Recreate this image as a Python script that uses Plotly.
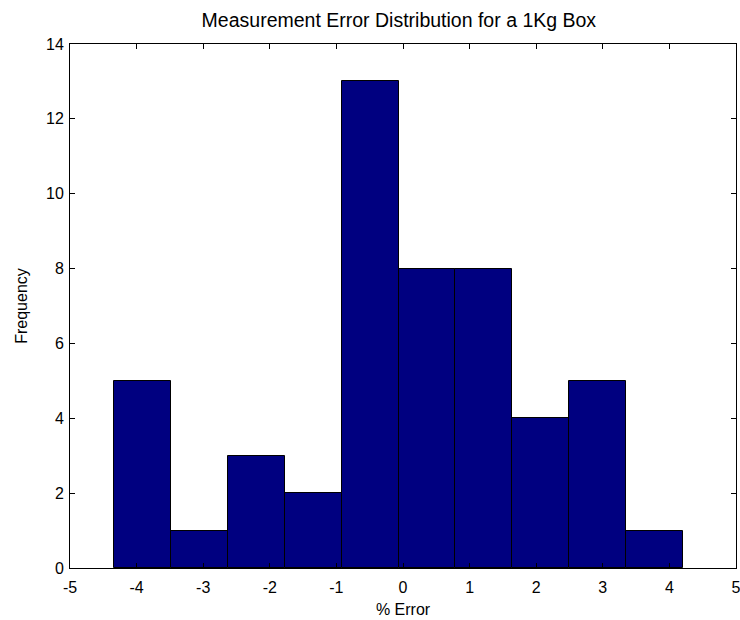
import plotly.graph_objects as go

bin_centers = [-3.91, -3.06, -2.205, -1.35, -0.495, 0.36, 1.215, 2.07, 2.925, 3.78]
counts = [5, 1, 3, 2, 13, 8, 8, 4, 5, 1]
bin_width = 0.855
x_ticks = [-5, -4, -3, -2, -1, 0, 1, 2, 3, 4, 5]
y_ticks = [0, 2, 4, 6, 8, 10, 12, 14]

FONT = "Liberation Sans, Arial"

fig = go.Figure(go.Bar(
    x=bin_centers, y=counts, width=[bin_width] * len(counts),
    marker=dict(color="#000080", line=dict(color="black", width=1)),
))

axis_common = dict(
    showline=True, linecolor="black", linewidth=1, mirror="ticks",
    ticks="inside", ticklen=5, tickcolor="black", showgrid=False, zeroline=False,
    tickfont=dict(family=FONT, size=16, color="black"),
    ticklabeloverflow="allow", automargin=False,
)
fig.update_xaxes(range=[-5, 5], tickvals=x_ticks, ticktext=[str(v) for v in x_ticks],
                 ticklabelstandoff=5,
                 title=dict(text="% Error", font=dict(family=FONT, size=16, color="black"), standoff=8),
                 **axis_common)
fig.update_yaxes(range=[0, 14], tickvals=y_ticks, ticklabelstandoff=2,
                 title=dict(text="Frequency", font=dict(family=FONT, size=16, color="black"), standoff=14),
                 **axis_common)
fig.update_layout(
    width=740, height=620,
    margin=dict(l=70, r=4, t=44, b=52, autoexpand=False),
    plot_bgcolor="white", paper_bgcolor="white",
    title=dict(text="Measurement Error Distribution for a 1Kg Box", x=0.539, xanchor="center",
               y=1 - 20 / 620, yanchor="middle",
               font=dict(family=FONT, size=19.5, color="black")),
    showlegend=False, bargap=0,
)
fig.write_html("out.html")
